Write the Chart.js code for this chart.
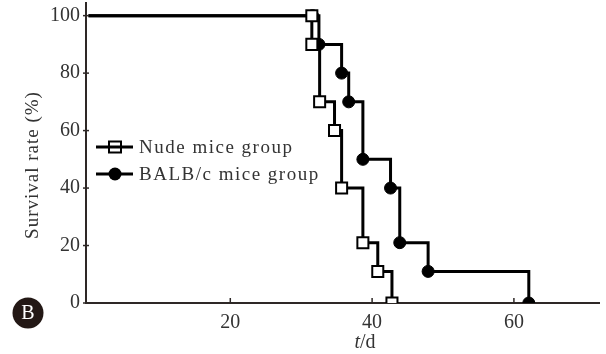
<!DOCTYPE html>
<html>
<head>
<meta charset="utf-8">
<script src="https://cdn.jsdelivr.net/npm/chart.js@4/dist/chart.umd.min.js"></script>
<style>
  html, body { margin: 0; padding: 0; background: #fff; }
  #wrap { width: 606px; height: 354px; position: relative; }
</style>
</head>
<body>
<div id="wrap"><canvas id="surv"></canvas></div>
<script>
// survival curves (t in days, survival in %)
const nudeDays = [0, 31.5, 31.5, 32.6, 34.7, 35.7, 38.7, 40.8, 42.8];
const nudeSurv = [100, 100, 90, 70, 60, 40, 21, 11, 0];
const balbDays = [0, 31.6, 32.5, 35.7, 36.7, 38.7, 42.6, 43.9, 47.9, 62.1];
const balbSurv = [100, 100, 90, 80, 70, 50, 40, 21, 11, 0];
const xTickVals = [20, 40, 60];
const yTickVals = [0, 20, 40, 60, 80, 100];
const seriesNames = ["Nude mice group", "BALB/c mice group"];

const INK = "#000";
const AXIS = "#2e2826";
const TXT = "#333";
const SERIF = "'Liberation Serif', 'Times New Roman', serif";

function pts(xs, ys) {
  return xs.map((x, i) => ({ x: x, y: ys[i] }));
}

const datasets = [
  {
    label: seriesNames[0],
    data: pts(nudeDays, nudeSurv),
    borderColor: INK,
    borderWidth: 3,
    stepped: "before",
    pointStyle: "rect",
    pointRadius: (c) => (c.dataIndex === 0 ? 0 : 7.8),
    pointBackgroundColor: "#fff",
    pointBorderColor: INK,
    pointBorderWidth: 2,
  },
  {
    label: seriesNames[1],
    data: pts(balbDays, balbSurv),
    borderColor: INK,
    borderWidth: 3,
    stepped: "before",
    pointStyle: "circle",
    pointRadius: (c) => (c.dataIndex === 0 ? 0 : 6),
    pointBackgroundColor: INK,
    pointBorderColor: INK,
    pointBorderWidth: 1,
  },
];

// tick marks, legend, axis title and panel badge
const decor = {
  id: "decor",
  afterDraw(chart) {
    const c = chart.ctx;
    const xs = chart.scales.x, ys = chart.scales.y;
    const ca = chart.chartArea;
    c.save();
    c.strokeStyle = AXIS;
    c.lineWidth = 1.5;
    yTickVals.forEach((v) => {
      const y = ys.getPixelForValue(v);
      c.beginPath(); c.moveTo(ca.left - 3, y); c.lineTo(ca.left + 3, y); c.stroke();
    });
    xTickVals.forEach((v) => {
      const x = xs.getPixelForValue(v);
      c.beginPath(); c.moveTo(x, ca.bottom); c.lineTo(x, ca.bottom - 5); c.stroke();
    });

    // legend
    c.font = "19px " + SERIF;
    c.letterSpacing = "1.5px";
    c.textBaseline = "middle";
    const rows = [147, 174];
    datasets.forEach((ds, i) => {
      const y = rows[i];
      c.strokeStyle = INK;
      c.lineWidth = 3;
      c.beginPath(); c.moveTo(96, y); c.lineTo(133, y); c.stroke();
      if (ds.pointStyle === "rect") {
        c.fillStyle = "#fff";
        c.lineWidth = 2;
        c.fillRect(109, y - 5.5, 12, 11);
        c.strokeRect(109, y - 5.5, 12, 11);
        c.beginPath(); c.moveTo(109, y); c.lineTo(121, y); c.lineWidth = 3; c.stroke();
      } else {
        c.fillStyle = INK;
        c.beginPath(); c.arc(115, y, 6.5, 0, Math.PI * 2); c.fill();
      }
      c.fillStyle = TXT;
      c.textAlign = "left";
      c.fillText(ds.label, 139, y + 1);
    });

    // y title
    c.save();
    c.translate(33, 165);
    c.rotate(-Math.PI / 2);
    c.textAlign = "center";
    c.letterSpacing = "1px";
    c.font = "19px " + SERIF;
    c.fillText("Survival rate (%)", 0, 0);
    c.restore();

    // x title t/d
    c.letterSpacing = "0px";
    c.textBaseline = "alphabetic";
    c.textAlign = "left";
    c.font = "italic 20px " + SERIF;
    const tW = c.measureText("t").width;
    c.font = "20px " + SERIF;
    const dW = c.measureText("/d").width;
    const x0 = 365 - (tW + dW) / 2;
    c.font = "italic 20px " + SERIF;
    c.fillText("t", x0, 348);
    c.font = "20px " + SERIF;
    c.fillText("/d", x0 + tW, 348);

    // panel badge
    c.fillStyle = "#231815";
    c.beginPath(); c.arc(28, 313, 15.5, 0, Math.PI * 2); c.fill();
    c.fillStyle = "#fff";
    c.textAlign = "center";
    c.textBaseline = "middle";
    c.font = "20px " + SERIF;
    c.fillText("B", 28, 314);
    c.restore();
  },
};

new Chart(document.getElementById("surv"), {
  type: "line",
  data: { datasets: datasets },
  options: {
    responsive: true,
    maintainAspectRatio: false,
    animation: false,
    layout: { autoPadding: false, padding: { left: 0, right: 7, top: 3, bottom: 0 } },
    plugins: { legend: { display: false }, tooltip: { enabled: false } },
    scales: {
      x: {
        type: "linear",
        min: -0.35,
        max: 72,
        afterBuildTicks: (s) => { s.ticks = xTickVals.map((v) => ({ value: v })); },
        afterFit: (s) => { s.height = 51; s.paddingLeft = 0; s.paddingRight = 0; },
        grid: { display: false, drawTicks: false },
        border: { display: true, color: AXIS, width: 2 },
        ticks: {
          padding: 8,
          color: TXT,
          font: { family: SERIF, size: 20 },
        },
      },
      y: {
        type: "linear",
        min: 0,
        max: 104.4,
        afterBuildTicks: (s) => { s.ticks = yTickVals.map((v) => ({ value: v })); },
        afterFit: (s) => { s.width = 86; s.paddingTop = 0; s.paddingBottom = 0; },
        grid: { display: false, drawTicks: false },
        border: { display: true, color: AXIS, width: 2 },
        ticks: {
          padding: 6,
          color: TXT,
          font: { family: SERIF, size: 20 },
        },
      },
    },
  },
  plugins: [decor],
});
</script>
</body>
</html>
